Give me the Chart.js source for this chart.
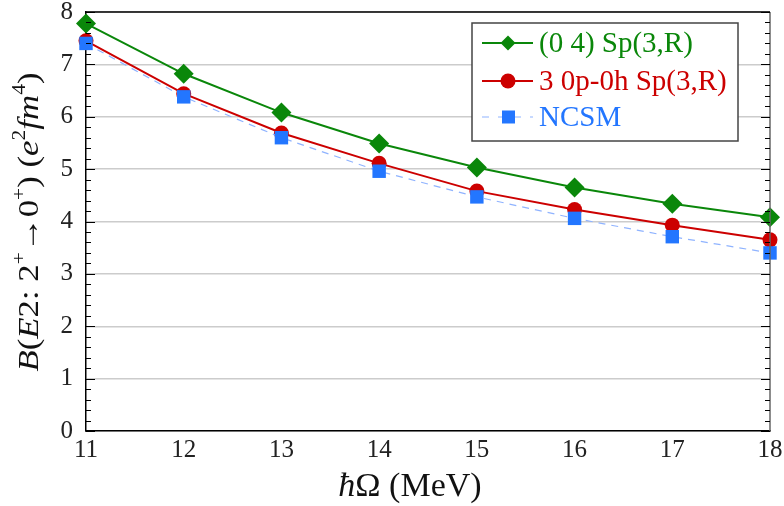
<!DOCTYPE html>
<html>
<head>
<meta charset="utf-8">
<script src="https://cdn.jsdelivr.net/npm/chart.js@4.4.1/dist/chart.umd.min.js"></script>
<style>
  html, body { margin: 0; padding: 0; background: #fff; }
</style>
</head>
<body>
<canvas id="myChart" width="784" height="506"></canvas>
<script>
// hbar Omega (MeV) on the x axis
const hbarOmega = [11, 12, 13, 14, 15, 16, 17, 18];
// B(E2) values
const sp3rValues = [7.78, 6.82, 6.08, 5.49, 5.03, 4.65, 4.34, 4.08];
const ph0Values = [7.45, 6.44, 5.69, 5.11, 4.58, 4.23, 3.93, 3.65];
const ncsmValues = [7.40, 6.38, 5.60, 4.96, 4.47, 4.06, 3.71, 3.40];
const seriesNames = ["(0 4) Sp(3,R)", "3 0p-0h Sp(3,R)", "NCSM"];
const yRange = [0, 8];

const SERIF = "'Liberation Serif', 'Times New Roman', serif";
const GREEN = "#0a870a";
const RED = "#cc0000";
const BLUE = "#2376ff";
const BLUE_LINE = "#8fb3ff";

const toPoints = (vals) => hbarOmega.map((x, i) => ({ x: x, y: vals[i] }));

// draw a line of mixed italic / superscript text
function drawRuns(ctx, runs, size, x0, y0) {
  runs.forEach((r) => {
    const s = r.sup ? size * 0.62 : size;
    ctx.font = (r.it ? "italic " : "") + s + "px " + SERIF;
    const dy = r.sup ? -size * 0.42 : 0;
    ctx.fillText(r.t, x0, y0 + dy);
    x0 += ctx.measureText(r.t).width;
  });
}
function measureRuns(ctx, runs, size) {
  let w = 0;
  runs.forEach((r) => {
    const s = r.sup ? size * 0.62 : size;
    ctx.font = (r.it ? "italic " : "") + s + "px " + SERIF;
    w += ctx.measureText(r.t).width;
  });
  return w;
}

const yTitle = [
  { t: "B", it: true }, { t: "(" }, { t: "E", it: true }, { t: "2: 2" },
  { t: "+", sup: true }, { t: "\u2192" }, { t: "0" }, { t: "+", sup: true },
  { t: ") (" }, { t: "e", it: true }, { t: "2", sup: true },
  { t: "fm", it: true }, { t: "4", sup: true }, { t: ")" },
];
const xTitle = [{ t: "\u0127", it: true }, { t: "\u03A9 (MeV)" }];

const extras = {
  id: "extras",
  afterDraw: (chart) => {
    const ctx = chart.ctx;
    const a = chart.chartArea;
    const ys = chart.scales.y;
    ctx.save();

    // frame top + right
    ctx.lineWidth = 1.5;
    ctx.strokeStyle = "#000";
    ctx.beginPath();
    ctx.moveTo(a.left, a.top);
    ctx.lineTo(a.right, a.top);
    ctx.stroke();
    ctx.strokeStyle = "#666";
    ctx.beginPath();
    ctx.moveTo(a.right, a.top);
    ctx.lineTo(a.right, a.bottom);
    ctx.stroke();

    // inward ticks, minor every 0.2
    ctx.strokeStyle = "#000";
    ctx.lineWidth = 1.2;
    for (let k = 0; k <= 40; k++) {
      const v = yRange[0] + k * 0.2;
      const py = Math.round(ys.getPixelForValue(v)) + 0.5;
      const len = k % 5 === 0 ? 9 : 5;
      ctx.beginPath();
      ctx.moveTo(a.left, py);
      ctx.lineTo(a.left + len, py);
      ctx.moveTo(a.right, py);
      ctx.lineTo(a.right - len, py);
      ctx.stroke();
    }

    // legend
    const lx = 472, ly = 23, lw = 266, lh = 118;
    ctx.fillStyle = "#fff";
    ctx.fillRect(lx, ly, lw, lh);
    ctx.strokeStyle = "#444";
    ctx.lineWidth = 1.5;
    ctx.strokeRect(lx, ly, lw, lh);
    const rows = [43, 81, 117];
    const cols = [GREEN, RED, BLUE];
    rows.forEach((ry, i) => {
      ctx.strokeStyle = i === 2 ? BLUE_LINE : cols[i];
      ctx.lineWidth = i === 2 ? 1.2 : 2;
      ctx.setLineDash(i === 2 ? [7, 9] : []);
      ctx.beginPath();
      ctx.moveTo(482, ry);
      ctx.lineTo(533, ry);
      ctx.stroke();
      ctx.setLineDash([]);
      ctx.fillStyle = cols[i];
      ctx.beginPath();
      if (i === 0) {
        ctx.moveTo(508, ry - 7.5); ctx.lineTo(515.5, ry); ctx.lineTo(508, ry + 7.5); ctx.lineTo(500.5, ry);
      } else if (i === 1) {
        ctx.arc(508, ry, 7.5, 0, Math.PI * 2);
      } else {
        ctx.rect(502, ry - 6.5, 13, 13);
      }
      ctx.fill();
      ctx.font = "29px " + SERIF;
      ctx.textBaseline = "middle";
      ctx.fillText(seriesNames[i], 539, ry + 1);
    });

    // axis titles
    ctx.fillStyle = "#111";
    ctx.textBaseline = "alphabetic";
    const xw = measureRuns(ctx, xTitle, 34);
    drawRuns(ctx, xTitle, 34, 410 - xw / 2, 496);

    const yw = measureRuns(ctx, yTitle, 30);
    const stretch = 299 / yw;
    ctx.translate(38, 222);
    ctx.rotate(-Math.PI / 2);
    ctx.scale(stretch, 1);
    drawRuns(ctx, yTitle, 30, -yw / 2, 0);
    ctx.restore();
  },
};

new Chart(document.getElementById("myChart"), {
  type: "line",
  data: {
    datasets: [
      {
        label: seriesNames[0],
        data: toPoints(sp3rValues),
        borderColor: GREEN,
        backgroundColor: GREEN,
        borderWidth: 2,
        pointStyle: "rectRot",
        pointRadius: 10,
        pointBorderWidth: 0,
        tension: 0,
        clip: false,
        order: 3,
      },
      {
        label: seriesNames[1],
        data: toPoints(ph0Values),
        borderColor: RED,
        backgroundColor: RED,
        borderWidth: 2,
        pointStyle: "circle",
        pointRadius: 7.5,
        pointBorderWidth: 0,
        tension: 0,
        clip: false,
        order: 2,
      },
      {
        label: seriesNames[2],
        data: toPoints(ncsmValues),
        borderColor: BLUE_LINE,
        backgroundColor: BLUE,
        pointBackgroundColor: BLUE,
        borderWidth: 1.2,
        borderDash: [7, 6],
        pointStyle: "rect",
        pointRadius: 9.5,
        pointBorderWidth: 0,
        tension: 0,
        clip: false,
        order: 1,
      },
    ],
  },
  options: {
    responsive: false,
    animation: false,
    layout: { padding: { top: 12, right: 14, left: 0, bottom: 0 } },
    plugins: {
      legend: { display: false },
      tooltip: { enabled: false },
    },
    scales: {
      x: {
        type: "linear",
        min: hbarOmega[0],
        max: hbarOmega[hbarOmega.length - 1],
        ticks: {
          stepSize: 1,
          color: "#222",
          padding: 4,
          font: { family: SERIF, size: 25 },
        },
        grid: { display: false, drawTicks: false },
        border: { display: true, color: "#000", width: 1.5 },
        afterFit: (s) => { s.height = 75; s.paddingLeft = 0; s.paddingRight = 0; },
      },
      y: {
        min: yRange[0],
        max: yRange[1],
        ticks: {
          stepSize: 1,
          color: "#222",
          padding: 13,
          font: { family: SERIF, size: 25 },
        },
        grid: { color: "#cccccc", lineWidth: 1.5, drawTicks: false },
        border: { display: true, color: "#000", width: 1.5 },
        afterFit: (s) => { s.width = 86; s.paddingTop = 0; s.paddingBottom = 0; },
      },
    },
  },
  plugins: [extras],
});
</script>
</body>
</html>
